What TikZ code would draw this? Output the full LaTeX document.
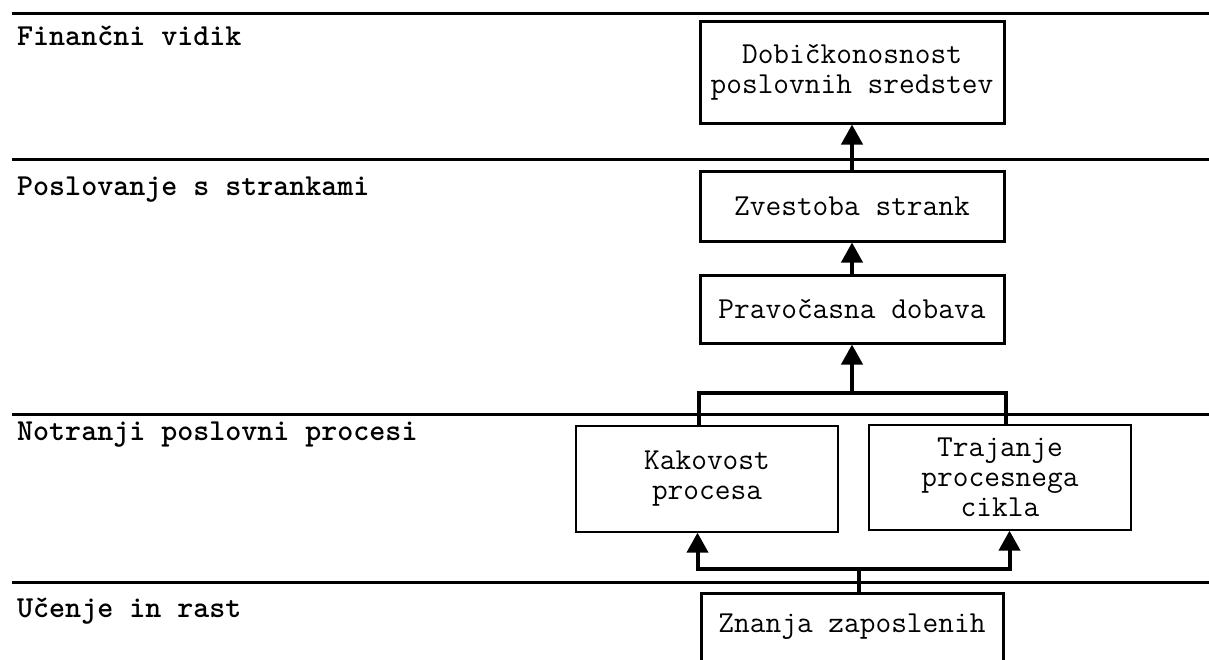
\documentclass[tikz,border=0pt]{standalone}
\usepackage{fontspec}
\setmainfont{Latin Modern Mono}
\newfontfamily\headfont{lmmonolt10-bold}[Extension=.otf]
\usetikzlibrary{arrows.meta,calc}
\begin{document}
\begin{tikzpicture}[x=1pt,y=-1pt,
  txt/.style={font=\fontsize{30.5}{30}\selectfont},
  rule/.style={line width=3pt},
  heading/.style={anchor=base west,inner sep=0pt,font=\fontsize{30.5}{30}\headfont},
  goal/.style={txt,draw,line width=3pt,minimum width=304pt,align=center,inner sep=0pt},
  process/.style={txt,draw,line width=1.3pt,minimum width=262pt,minimum height=106pt,align=center,inner sep=0pt},
  wire/.style={line width=4pt},
  link/.style={wire,-{Triangle[width=21pt,length=20pt]}}]
\useasboundingbox (0,0) rectangle (1209,659);
\clip (0,0) rectangle (1209,659);

% perspective separators
\draw[rule] (12,13) -- (1209,13);
\draw[rule] (12,159) -- (1209,159);
\draw[rule] (12,414) -- (1209,414);
\draw[rule] (12,582) -- (1209,582);

% perspective headings
\node[heading] (hfin) at (17,45) {Finančni vidik};
\node[heading] (hcus) at (17,195) {Poslovanje s strankami};
\node[heading] (hint) at (17,440) {Notranji poslovni procesi};
\node[heading] (hlrn) at (17,617) {Učenje in rast};

% objectives
\node[goal,minimum height=102pt] (d) at (852,72) {Dobičkonosnost\\poslovnih sredstev};
\node[goal,minimum height=70pt] (z) at (852,206) {Zvestoba strank};
\node[goal,minimum height=68pt] (p) at (852,309) {Pravočasna dobava};
\node[process] (k) at (707,479) {Kakovost\\procesa};
\node[process,minimum height=105pt] (t) at (1000,477.5) {Trajanje\\procesnega\\cikla};
\node[goal,minimum width=302pt,minimum height=68pt] (zn) at (852,627) {Znanja zaposlenih};

% cause-and-effect links
\draw[link] (z.north) -- (d.south);
\draw[link] (p.north) -- (z.south);

\coordinate (upj) at (852,393);
\draw[wire] (k.north -| p.west) -- (p.west |- upj) -- (p.east |- upj) -- (t.north -| p.east);
\draw[link] (upj) -- (p.south);

\coordinate (lowj) at (859,569);
\draw[wire] (zn.north -| lowj) -- (lowj);
\draw[link] (lowj) -| ($(k.south -| zn.west)+(-2,0)$);
\draw[link] (lowj) -| ($(t.south -| zn.east)+(5,0)$);
\end{tikzpicture}
\end{document}
